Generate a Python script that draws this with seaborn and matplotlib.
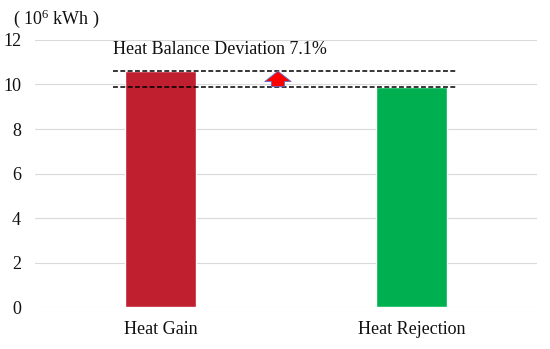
import matplotlib
matplotlib.use("Agg")
import matplotlib.pyplot as plt
import seaborn as sns
import pandas as pd

categories = ["Heat Gain", "Heat Rejection"]
values = [10.6, 9.9]
colors = ["#C01F2F", "#00B050"]
deviation_label = "Heat Balance Deviation 7.1%"
unit_label = "( 10$^{6}$ kWh )"

sns.set_style("white")
plt.rcParams['font.family'] = ['Liberation Serif', 'DejaVu Serif']
plt.rcParams['mathtext.fontset'] = 'custom'
plt.rcParams['mathtext.rm'] = 'Liberation Serif'
plt.rcParams['mathtext.it'] = 'Liberation Serif:italic'
plt.rcParams['mathtext.default'] = 'rm'

df = pd.DataFrame({"cat": categories, "val": values})

fig = plt.figure(figsize=(5.5, 3.49), dpi=100)
ax = fig.add_axes([0.0636, 0.1203, 0.9127, 0.7651])
sns.barplot(data=df, x="cat", y="val", hue="cat", palette=colors, width=0.286,
            saturation=1, legend=False, ax=ax)

ax.set_ylim(0, 12)
ax.set_xlim(-0.5, 1.5)
ax.set_yticks(range(0, 13, 2))
ax.yaxis.grid(True, color="#d9d9d9", linewidth=0.8)
ax.set_axisbelow(True)
for s in ax.spines.values():
    s.set_visible(False)
ax.tick_params(axis="both", length=0, labelsize=13, labelcolor="#111111")
ax.tick_params(axis="x", pad=10)
ax.tick_params(axis="y", pad=10)
ax.set_xlabel("")
ax.set_ylabel("")

# dashed reference lines at both totals
for v in values:
    ax.plot([-0.19, 1.18], [v, v], color="black", linestyle=(0, (3.2, 1.6)), linewidth=1.1)

ax.annotate("", xy=(0.468, values[0]), xytext=(0.468, values[1]),
            arrowprops=dict(arrowstyle="simple,head_width=1.9,head_length=0.75,tail_width=0.95",
                            mutation_scale=10, fc="red", ec="#5070d0", lw=0.6,
                            shrinkA=0, shrinkB=0))

ax.text(-0.19, 11.17, deviation_label, fontsize=13, ha="left", va="bottom", color="#111111")
fig.text(0.024, 0.945, unit_label, fontsize=13, ha="left", va="center", color="#111111")

fig.savefig("out.png", dpi=100)
